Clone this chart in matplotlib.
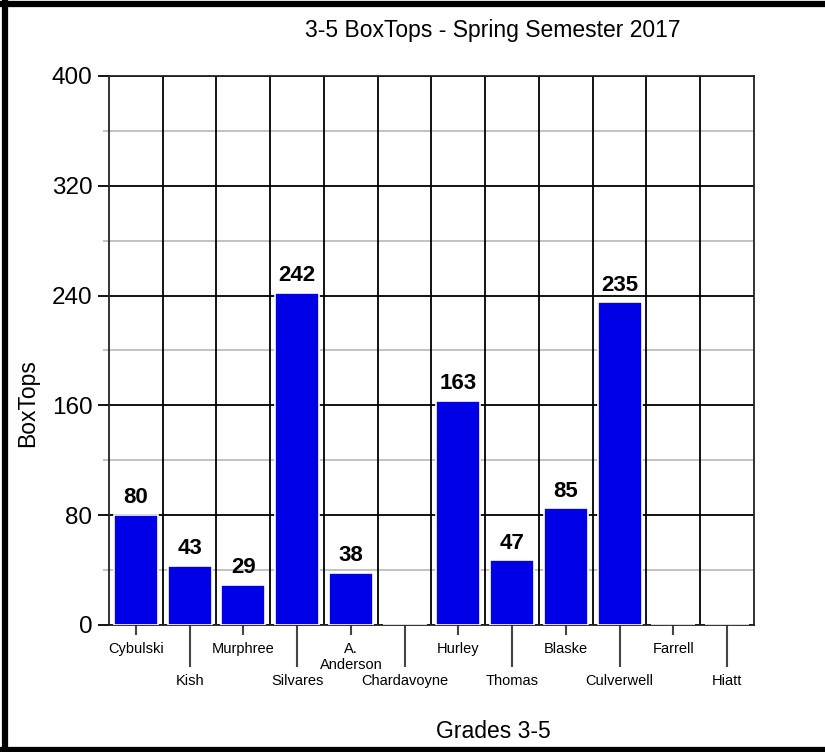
import matplotlib
matplotlib.use("Agg")
import matplotlib.pyplot as plt
from matplotlib.lines import Line2D
import numpy as np

plt.rcParams["font.family"] = ["Liberation Sans", "DejaVu Sans"]

teachers = ["Cybulski", "Kish", "Murphree", "Silvares", "A.\nAnderson", "Chardavoyne",
            "Hurley", "Thomas", "Blaske", "Culverwell", "Farrell", "Hiatt"]
boxtops = [80, 43, 29, 242, 38, 0, 163, 47, 85, 235, 0, 0]
y_major = [0, 80, 160, 240, 320, 400]
y_minor = [40, 120, 200, 280, 360]

fig = plt.figure(figsize=(8.25, 7.52), dpi=100)
ax = fig.add_axes([0.1321, 0.1689, 0.7818, 0.7301])

x = np.arange(len(teachers))
bars = ax.bar(x, boxtops, width=0.82, color="#0000e6", edgecolor="white",
              linewidth=1.2, zorder=3)
for xi, v in zip(x, boxtops):
    if v > 0:
        ax.annotate(str(v), (xi, v), xytext=(0, 8.5), textcoords="offset points",
                    ha="center", va="baseline", fontsize=16, fontweight="bold", zorder=4)

ax.set_xlim(-0.5, len(teachers) - 0.5)
ax.set_ylim(0, 400)

# vertical grid at category boundaries
for b in np.arange(0.5, len(teachers) - 0.5, 1.0):
    ax.axvline(b, color="black", lw=1.3, zorder=1)

ax.set_yticks(y_major)
ax.set_yticks(y_minor, minor=True)
ax.yaxis.grid(True, which="major", color="black", lw=1.3, zorder=1)
ax.yaxis.grid(True, which="minor", color="#bdbdbd", lw=1.3, zorder=1)
ax.set_axisbelow(True)
ax.tick_params(axis="y", which="major", length=8, width=1.3, color="black",
               labelsize=17.5, pad=4)
ax.tick_params(axis="y", which="minor", length=4, width=1.3, color="#bdbdbd")

# alternating two-row category labels
ax.set_xticks(x[::2])
ax.set_xticklabels(teachers[::2])
ax.set_xticks(x[1::2], minor=True)
ax.set_xticklabels(teachers[1::2], minor=True)
ax.tick_params(axis="x", which="major", length=7, width=1.5, color="#444444",
               labelsize=10.5, pad=5)
ax.tick_params(axis="x", which="minor", length=30, width=1.5, color="#444444",
               labelsize=10.5, pad=5)

for s in ax.spines.values():
    s.set_linewidth(1.3)
    s.set_color("#222222")

fig.text(0.5976, 0.960, "3-5 BoxTops - Spring Semester 2017", ha="center", va="center",
         fontsize=16.5)
fig.text(0.5976, 0.027, "Grades 3-5", ha="center", va="center", fontsize=16.5)
fig.text(0.034, 0.464, "BoxTops", ha="center", va="center", rotation=90, fontsize=16.5)

# dark frame (left, top, bottom)
frame = dict(color="black", lw=4.5, transform=fig.transFigure)
fig.add_artist(Line2D([0.006, 0.006], [0, 1], **frame))
fig.add_artist(Line2D([0, 1], [0.9953, 0.9953], **frame))
fig.add_artist(Line2D([0, 1], [0.0033, 0.0033], **frame))

fig.savefig("out.png", dpi=100)
